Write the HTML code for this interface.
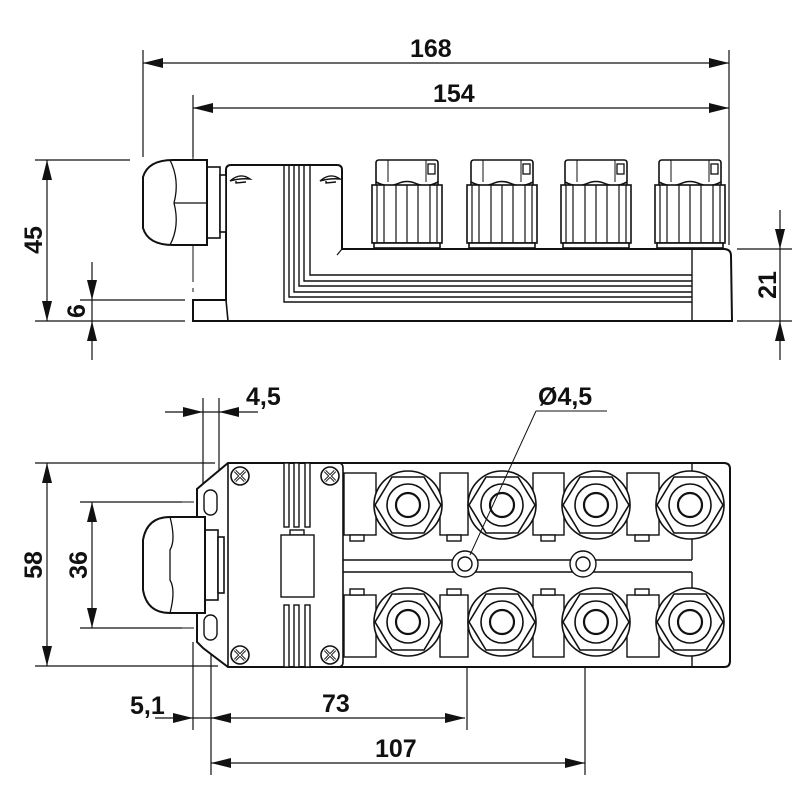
<!DOCTYPE html>
<html><head><meta charset="utf-8"><style>
html,body{margin:0;padding:0;background:#fff}
svg{display:block}
text{font-family:"Liberation Sans",Arial,sans-serif;font-weight:bold;font-size:25px;fill:#111}
</style></head><body>
<svg width="800" height="800" viewBox="0 0 800 800" xmlns="http://www.w3.org/2000/svg">
<defs>
<path id="ar" d="M0,0 L20,-5 L20,5 Z" fill="#111"/>
<g id="tc" fill="#fff" stroke="#111" stroke-width="1.6">
  <path d="M-31,25 L-31,3 Q-31,0 -28,0 L28,0 Q31,0 31,3 L31,25"/>
  <path d="M-31,22 Q-20,28 -10,24 Q0,19 10,24 Q20,28 31,22" fill="none"/>
  <line x1="-19" y1="0" x2="-19" y2="22" stroke-width="1"/>
  <line x1="19" y1="0" x2="19" y2="22" stroke-width="1"/>
  <rect x="21" y="4" width="7" height="10" stroke-width="1.3"/>
  <rect x="-35" y="25" width="70" height="58"/>
  <line x1="-30" y1="25" x2="-30" y2="83" stroke-width="1.2"/>
  <line x1="-23" y1="25" x2="-23" y2="83" stroke-width="1.2"/>
  <line x1="-11" y1="25" x2="-11" y2="83" stroke-width="1.2"/>
  <line x1="0" y1="25" x2="0" y2="83" stroke-width="1.2"/>
  <line x1="11" y1="25" x2="11" y2="83" stroke-width="1.2"/>
  <line x1="23" y1="25" x2="23" y2="83" stroke-width="1.2"/>
  <line x1="30" y1="25" x2="30" y2="83" stroke-width="1.2"/>
  <rect x="-33" y="83" width="66" height="5"/>
</g>
<g id="bc" fill="#fff" stroke="#111" stroke-width="1.6">
  <circle r="34"/>
  <polygon points="-33,0 -16,-28 16,-28 33,0 16,28 -16,28"/>
  <circle r="21"/>
  <circle r="12" stroke-width="2.2"/>
</g>
<g id="scr" fill="#fff" stroke="#111" stroke-width="1.6">
  <circle r="9"/>
  <path d="M-5,-5 L5,5 M5,-5 L-5,5" stroke-width="3"/>
  <path d="M-5,-5 L5,5 M5,-5 L-5,5" stroke="#fff" stroke-width="1"/>
</g>
</defs>

<g stroke="#111" fill="none">
<line x1="143" y1="50" x2="143" y2="157" stroke-width="1.2"/>
<line x1="729" y1="50" x2="729" y2="245" stroke-width="1.2"/>
<line x1="193" y1="95" x2="193" y2="157" stroke-width="1.2"/>
<line x1="143" y1="63" x2="729" y2="63" stroke-width="1.2"/>
<line x1="193" y1="108" x2="729" y2="108" stroke-width="1.2"/>
<line x1="35" y1="160" x2="130" y2="160" stroke-width="1.2"/>
<line x1="35" y1="321" x2="185" y2="321" stroke-width="1.2"/>
<line x1="47" y1="160" x2="47" y2="321" stroke-width="1.2"/>
<line x1="80" y1="300" x2="185" y2="300" stroke-width="1.2"/>
<line x1="92" y1="262" x2="92" y2="360" stroke-width="1.2"/>
<line x1="737" y1="249" x2="792" y2="249" stroke-width="1.2"/>
<line x1="737" y1="321" x2="792" y2="321" stroke-width="1.2"/>
<line x1="780" y1="210" x2="780" y2="360" stroke-width="1.2"/>
<line x1="193" y1="150" x2="193" y2="292" stroke-width="1" stroke-dasharray="40,6"/>
</g>
<use href="#ar" transform="translate(143,63)"/>
<use href="#ar" transform="translate(729,63) rotate(180)"/>
<use href="#ar" transform="translate(193,108)"/>
<use href="#ar" transform="translate(729,108) rotate(180)"/>
<use href="#ar" transform="translate(47,160) rotate(90)"/>
<use href="#ar" transform="translate(47,321) rotate(-90)"/>
<use href="#ar" transform="translate(92,300) rotate(-90)"/>
<use href="#ar" transform="translate(92,321) rotate(90)"/>
<use href="#ar" transform="translate(780,249) rotate(-90)"/>
<use href="#ar" transform="translate(780,321) rotate(90)"/>
<text x="410" y="57">168</text>
<text x="433" y="102">154</text>
<text transform="translate(42,240) rotate(-90)" text-anchor="middle">45</text>
<text transform="translate(85,311) rotate(-90)" text-anchor="middle">6</text>
<text transform="translate(776,285) rotate(-90)" text-anchor="middle">21</text>

<g stroke="#111" fill="#fff" stroke-width="2">
  <path d="M193,321 L193,300 L226,300 L226,170 Q226,165 231,165 L337,165 Q342,165 342,170 L342,249 L724,249 Q731,249 731,256 L732,321 Z"/>
  <line x1="226" y1="300" x2="228" y2="321" stroke-width="1.6"/>
  <line x1="692" y1="249" x2="692" y2="321" stroke-width="1.4"/>
  <line x1="337" y1="255" x2="342" y2="249" stroke-width="1.2"/>
  <g fill="none" stroke-width="1.4">
    <path d="M284,166 L284,302 L692,302"/>
    <path d="M289,166 L289,297 L692,297"/>
    <path d="M294,166 L294,292 L692,292"/>
    <path d="M299,166 L299,286 L692,286"/>
    <path d="M304,166 L304,281 L692,281"/>
    <path d="M310,166 L310,275 L692,275"/>
  </g>
  <g stroke-width="1.4" fill="none">
    <path d="M230,181 Q240,172 250,179 Q240,178 230,181 Z"/>
    <path d="M236,181 L236,183 L246,182"/>
    <path d="M320,181 Q330,172 340,179 Q330,178 320,181 Z"/>
    <path d="M326,181 L326,183 L336,182"/>
  </g>
  <rect x="207" y="167" width="13" height="71" stroke-width="1.6"/>
  <rect x="220" y="175" width="6" height="57" stroke-width="1.6"/>
  <path d="M173,160 L207,160 L207,245 L173,245 Q148,245 143,228 L143,177 Q148,160 173,160 Z"/>
  <path d="M170,160 Q180,180 174,203 Q180,226 170,245" fill="none" stroke-width="1.3"/>
  <line x1="174" y1="203" x2="207" y2="203" stroke-width="1.3"/>
</g>
<use href="#tc" transform="translate(407,160)"/>
<use href="#tc" transform="translate(502,160)"/>
<use href="#tc" transform="translate(596,160)"/>
<use href="#tc" transform="translate(690,160)"/>

<g stroke="#111" fill="none" stroke-width="1.2">
<line x1="203" y1="398" x2="203" y2="490"/>
<line x1="219" y1="398" x2="219" y2="490"/>
<line x1="165" y1="412" x2="258" y2="412"/>
<line x1="35" y1="463" x2="215" y2="463"/>
<line x1="35" y1="666" x2="218" y2="666"/>
<line x1="47" y1="463" x2="47" y2="666"/>
<line x1="80" y1="502" x2="182" y2="502"/>
<line x1="80" y1="628" x2="182" y2="628"/>
<line x1="92" y1="502" x2="92" y2="628"/>
<line x1="193" y1="642" x2="193" y2="730"/>
<line x1="211" y1="640" x2="211" y2="775"/>
<line x1="155" y1="718" x2="465" y2="718"/>
<line x1="211" y1="763" x2="585" y2="763"/>
<line x1="467" y1="590" x2="467" y2="730"/>
<line x1="585" y1="590" x2="585" y2="775"/>
<line x1="536" y1="411" x2="607" y2="411" stroke-width="1"/>
</g>
<g stroke="#111" fill="none" stroke-width="1" stroke-dasharray="12,4,3,4">
<line x1="182" y1="502" x2="235" y2="502"/>
<line x1="182" y1="628" x2="235" y2="628"/>
<line x1="211" y1="480" x2="211" y2="642"/>
<line x1="467" y1="540" x2="467" y2="592"/>
<line x1="585" y1="540" x2="585" y2="592"/>
</g>
<use href="#ar" transform="translate(203,412) rotate(180)"/>
<use href="#ar" transform="translate(219,412)"/>
<use href="#ar" transform="translate(47,463) rotate(90)"/>
<use href="#ar" transform="translate(47,666) rotate(-90)"/>
<use href="#ar" transform="translate(92,502) rotate(90)"/>
<use href="#ar" transform="translate(92,628) rotate(-90)"/>
<use href="#ar" transform="translate(193,718) rotate(180)"/>
<use href="#ar" transform="translate(211,718)"/>
<use href="#ar" transform="translate(465,718) rotate(180)"/>
<use href="#ar" transform="translate(211,763)"/>
<use href="#ar" transform="translate(585,763) rotate(180)"/>
<text x="246" y="405">4,5</text>
<text x="538" y="405">Ø4,5</text>
<text x="130" y="714">5,1</text>
<text x="322" y="712">73</text>
<text x="375" y="757">107</text>
<text transform="translate(42,565) rotate(-90)" text-anchor="middle">58</text>
<text transform="translate(87,565) rotate(-90)" text-anchor="middle">36</text>

<g stroke="#111" fill="#fff" stroke-width="2">
  <path d="M228,463 L724,463 Q730,463 730,469 L730,661 Q730,667 724,667 L228,667 L203,648 L197,642 L197,489 L204,483 Z"/>
  <path d="M228,463 L228,667" stroke-width="1.6"/>
  <path d="M338,463 Q343,463 343,468 L343,662 Q343,667 338,667" fill="none" stroke-width="1.6"/>
  <line x1="692" y1="463" x2="692" y2="560" stroke-width="1.4"/>
  <line x1="692" y1="572" x2="692" y2="667" stroke-width="1.4"/>
  <path d="M343,560 L692,560 M343,572 L692,572" stroke-width="1.4"/>
  <rect x="204" y="490" width="13" height="25" rx="6.5" stroke-width="1.4"/>
  <rect x="204" y="615" width="13" height="25" rx="6.5" stroke-width="1.4"/>
  <g stroke-width="1.4">
    <rect x="284" y="463" width="5" height="64"/><rect x="294" y="463" width="5" height="64"/><rect x="305" y="463" width="5" height="64"/>
    <rect x="284" y="605" width="5" height="62"/><rect x="294" y="605" width="5" height="62"/><rect x="305" y="605" width="5" height="62"/>
    <rect x="290" y="530" width="14" height="5"/>
    <rect x="281" y="535" width="33" height="62"/>
  </g>
  <g stroke-width="1.4">
    <rect x="344" y="473" width="32" height="62"/><rect x="350" y="535" width="14" height="6"/>
    <rect x="440" y="473" width="28" height="62"/><rect x="447" y="535" width="14" height="6"/>
    <rect x="533" y="473" width="31" height="62"/><rect x="541" y="535" width="14" height="6"/>
    <rect x="627" y="473" width="32" height="62"/><rect x="635" y="535" width="14" height="6"/>
    <rect x="344" y="595" width="32" height="62"/><rect x="350" y="589" width="14" height="6"/>
    <rect x="440" y="595" width="28" height="62"/><rect x="447" y="589" width="14" height="6"/>
    <rect x="533" y="595" width="31" height="62"/><rect x="541" y="589" width="14" height="6"/>
    <rect x="627" y="595" width="32" height="62"/><rect x="635" y="589" width="14" height="6"/>
  </g>
  <circle cx="465" cy="564" r="13" stroke-width="1.4"/><circle cx="465" cy="564" r="7" stroke-width="1.4"/>
  <circle cx="583" cy="564" r="13" stroke-width="1.4"/><circle cx="583" cy="564" r="7" stroke-width="1.4"/>
  <rect x="205" y="530" width="13" height="70" stroke-width="1.6"/>
  <rect x="218" y="537" width="6" height="56" stroke-width="1.6"/>
  <path d="M170,517 L205,517 L205,613 L170,613 Q147,613 143,590 L143,540 Q147,517 170,517 Z"/>
  <path d="M170,517 Q176,540 170,550 L170,580 Q176,590 170,613" fill="none" stroke-width="1.3"/>
</g>
<use href="#scr" transform="translate(240,476)"/>
<use href="#scr" transform="translate(240,655)"/>
<use href="#scr" transform="translate(330,476)"/>
<use href="#scr" transform="translate(330,655)"/>
<use href="#bc" transform="translate(408,505)"/>
<use href="#bc" transform="translate(502,505)"/>
<use href="#bc" transform="translate(596,505)"/>
<use href="#bc" transform="translate(690,505)"/>
<use href="#bc" transform="translate(408,622)"/>
<use href="#bc" transform="translate(502,622)"/>
<use href="#bc" transform="translate(596,622)"/>
<use href="#bc" transform="translate(690,622)"/>
<line x1="536" y1="411" x2="470" y2="555" stroke="#111" stroke-width="1"/>
</svg>
</body></html>
